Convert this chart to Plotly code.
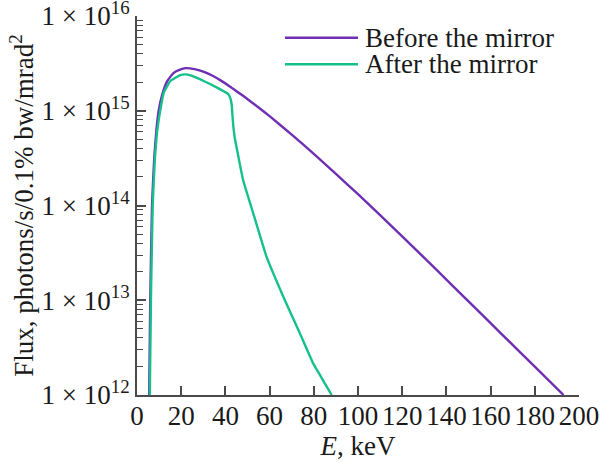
import plotly.graph_objects as go

# Energy (keV) and flux (photons/s/0.1% bw/mrad^2)
e_before = [5.5, 6.0, 6.8, 7.8, 8.8, 9.8, 11.3, 13.6, 16.6, 19.5, 21.9, 26, 30, 34, 38,
            42, 46, 48.3, 55, 60, 70, 80, 90, 100, 110, 120, 135, 150, 165, 180, 193]
f_before = [1.0e12, 1.0e13, 1.0e14, 3.16e14, 6.31e14, 1.0e15, 1.445e15, 2.04e15, 2.51e15,
            2.72e15, 2.818e15, 2.754e15, 2.588e15, 2.355e15, 2.08e15, 1.807e15, 1.549e15,
            1.419e15, 1.084e15, 8.77e14, 5.6e14, 3.51e14, 2.16e14, 1.315e14, 7.93e13,
            4.73e13, 2.153e13, 9.72e12, 4.4e12, 1.99e12, 1.0e12]

e_after = [5.8, 6.3, 7.1, 8.1, 9.1, 10.6, 12.1, 15.1, 19.6, 22.0, 24.2, 30.2, 36.2, 40.8,
           41.6, 42.4, 42.9, 43.2, 43.6, 44.2, 45.0, 46.5, 48.0, 52.6, 58.6, 66.2, 73.7,
           79.7, 81.0, 84.5, 88.1]
f_after = [1.0e12, 1.0e13, 1.0e14, 3.16e14, 6.0e14, 1.035e15, 1.55e15, 2.06e15, 2.38e15,
           2.42e15, 2.36e15, 2.06e15, 1.754e15, 1.528e15, 1.462e15, 1.318e15, 1.122e15,
           8.91e14, 6.76e14, 5.25e14, 4.17e14, 2.75e14, 1.858e14, 8.26e13, 2.884e13,
           1.091e13, 4.48e12, 2.158e12, 1.914e12, 1.387e12, 1.0e12]

x_ticks = [0, 20, 40, 60, 80, 100, 120, 140, 160, 180, 200]
y_ticks = [1e12, 1e13, 1e14, 1e15, 1e16]
y_ticktext = ["1 × 10<sup>12</sup>", "1 × 10<sup>13</sup>", "1 × 10<sup>14</sup>",
              "1 × 10<sup>15</sup>", "1 × 10<sup>16</sup>"]
y_minor = [m * d for d in [1e12, 1e13, 1e14, 1e15] for m in range(2, 10)]
series_names = ["Before the mirror", "After the mirror"]

purple = "#6e2fb4"
green = "#15c08b"
axis_col = "#4a4a4a"
text_col = "#1a1a1a"
font_family = "Liberation Serif, Times New Roman, serif"
fs = 27

fig = go.Figure()
fig.add_trace(go.Scatter(x=e_before, y=f_before, mode="lines", name=series_names[0],
                         line=dict(color=purple, width=2.4, shape="spline", smoothing=0.5),
                         showlegend=False))
fig.add_trace(go.Scatter(x=e_after, y=f_after, mode="lines", name=series_names[1],
                         line=dict(color=green, width=2.4, shape="spline", smoothing=0.3),
                         showlegend=False))

# legend drawn with long line samples, as in the reference
for i, (name, col) in enumerate(zip(series_names, [purple, green])):
    ypix = 37.7 + i * 26.6
    yp = 1 - (ypix - 16) / (395 - 16)
    fig.add_shape(type="line", xref="paper", yref="paper",
                  x0=(285 - 137) / 442, x1=(358 - 137) / 442, y0=yp, y1=yp,
                  line=dict(color=col, width=2.6))
    fig.add_annotation(xref="paper", yref="paper", x=(363 - 137) / 442, y=yp,
                       text=name, showarrow=False, xanchor="left", yanchor="middle",
                       font=dict(family=font_family, size=fs, color=text_col))

fig.update_xaxes(range=[0, 200], tickvals=x_ticks, ticks="inside", ticklen=9,
                 tickwidth=1.6, tickcolor=axis_col, showline=True, linecolor=axis_col,
                 linewidth=2, showgrid=False, zeroline=False, ticklabelstandoff=-4,
                 tickfont=dict(family=font_family, size=fs, color=text_col),
                 title=dict(text="<i>E</i>, keV", standoff=4,
                            font=dict(family=font_family, size=fs, color=text_col)))
fig.update_yaxes(type="log", range=[12, 16], tickvals=y_ticks, ticktext=y_ticktext,
                 ticks="inside", ticklen=9, tickwidth=1.6, tickcolor=axis_col,
                 showline=True, linecolor=axis_col, linewidth=2, showgrid=False,
                 zeroline=False, ticklabeloverflow="allow",
                 minor=dict(tickvals=y_minor, ticks="inside", ticklen=6, tickwidth=1.3,
                            tickcolor=axis_col, showgrid=False),
                 tickfont=dict(family=font_family, size=fs, color=text_col),
                 title=dict(text="Flux, photons/s/0.1% bw/mrad<sup>2</sup>", standoff=0,
                            font=dict(family=font_family, size=fs, color=text_col)))

fig.update_layout(width=600, height=462, plot_bgcolor="white", paper_bgcolor="white",
                  margin=dict(l=137, r=21, t=16, b=67, autoexpand=False),
                  font=dict(family=font_family))
# remove the default 8px page margin so the figure fills the window exactly
fig.write_html("out.html", config={"displayModeBar": False},
               post_script="document.body.style.margin='0';")
